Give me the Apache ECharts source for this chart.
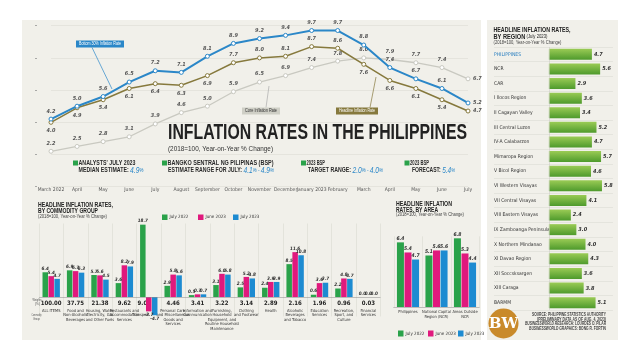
<!DOCTYPE html>
<html><head><meta charset="utf-8">
<script src="https://cdn.jsdelivr.net/npm/echarts@6/dist/echarts.min.js"></script>
<style>html,body{margin:0;padding:0;background:#fff}#c{width:640px;height:360px}</style>
</head><body><div id="c"></div>
<script>
// ---------- DATA ----------
const months = ['March 2022','April','May','June','July','August','September','October','November','December','January 2023','February','March','April','May','June','July'];
const bottom30 = [4.2,5.0,5.6,6.5,7.2,7.1,8.1,8.9,9.2,9.4,9.7,9.7,8.8,7.4,6.7,6.1,5.2];
const headline = [4.0,4.9,5.4,6.1,6.4,6.3,6.9,7.7,8.0,8.1,8.7,8.6,7.6,6.6,6.1,5.4,4.7];
const core = [2.2,2.5,2.8,3.1,3.9,4.6,5.0,5.9,6.5,6.9,7.4,7.8,8.0,7.9,7.7,7.4,6.7];

const commodityNames = ['ALL ITEMS','Food and\nNon-Alcoholic\nBeverages','Housing, Water,\nElectricity, Gas\nand Other Fuels','Restaurants and\nAccommodation\nServices','Transport','Personal Care,\nand Miscellaneous\nGoods and\nServices','Information and\nCommunication','Furnishing,\nHousehold\nEquipment, and\nRoutine Household\nMaintenance','Clothing\nand Footwear','Health','Alcoholic\nBeverages\nand Tobacco','Education\nServices','Recreation,\nSport, and\nCulture','Financial\nServices'];
const commodityWeights = ['100.00','37.75','21.38','9.62','9.05','4.46','3.41','3.22','3.14','2.89','2.16','1.96','0.96','0.03'];
const comJul2022 = [6.4,6.9,5.7,3.6,18.7,2.9,0.5,3.1,2.5,2.4,8.5,0.6,2.2,0.0];
const comJun2023 = [5.4,6.7,5.6,8.2,-3.7,5.8,0.7,6.0,5.2,3.9,11.6,3.6,4.8,0.0];
const comJul2023 = [4.7,6.3,4.5,7.9,-4.7,5.6,0.7,5.8,4.8,3.9,10.8,3.7,4.7,0.0];
const seriesNames = ['July 2022','June 2023','July 2023'];

const areaNames = ['Philippines','National Capital\nRegion (NCR)','Areas Outside\nNCR'];
const areaJul2022 = [6.4,5.1,6.8];
const areaJun2023 = [5.4,5.6,5.3];
const areaJul2023 = [4.7,5.6,4.4];

const regionNames = ['PHILIPPINES','NCR','CAR','I Ilocos Region','II Cagayan Valley','III Central Luzon','IV-A Calabarzon','Mimaropa Region','V Bicol Region','VI Western Visayas','VII Central Visayas','VIII Eastern Visayas','IX Zamboanga Peninsula','X Northern Mindanao','XI Davao Region','XII Soccsksargen','XIII Caraga','BARMM'];
const regionValues = [4.7,5.6,2.9,3.6,3.4,5.2,4.7,5.7,4.6,5.8,4.1,2.4,3.0,4.0,4.3,3.6,3.8,5.1];

// ---------- STYLE HELPERS ----------
const NARROW = "'Liberation Sans Narrow','DejaVu Sans Condensed','Roboto Condensed',Roboto,sans-serif";
const SANS = "'Liberation Sans',Arial,sans-serif";
const PANEL = '#f1f0ea';
const BLUE = '#2b87c8', OLIVE = '#86793d', GRAY = '#c9c9c1';
const barColors = ['#2aa24a','#e0197d','#1d8bd1'];
const ctx = document.createElement('canvas').getContext('2d');
function mw(t, size, weight, style) {
  ctx.font = (style||'normal') + ' ' + (weight||'normal') + ' ' + size + 'px ' + SANS;
  return ctx.measureText(t).width;
}
function fitText(parts, x, y, width, align) {
  let total = 0, text = ''; const rich = {};
  parts.forEach((p, i) => {
    total += mw(p.t, p.size, p.weight, p.style);
    rich['s' + i] = {fontSize: p.size, fontWeight: p.weight || 'normal', fontStyle: p.style || 'normal',
      fontFamily: SANS, fill: p.color || '#2a2a2a', color: p.color || '#2a2a2a'};
    text += '{s' + i + '|' + p.t + '}';
  });
  return {type: 'text', x: x, y: y, scaleX: width / total, z: 100,
    style: {text: text, rich: rich, align: align || 'left', verticalAlign: 'middle',
      textAlign: align || 'left', textVerticalAlign: 'middle'}};
}
function P(t, size, weight, color, style) { return {t, size, weight, color, style}; }

const graphics = [
  {type:'rect', z:-10, shape:{x:22,y:20,width:459,height:320}, style:{fill:PANEL}},
  {type:'rect', z:-10, shape:{x:487,y:20,width:131,height:320}, style:{fill:PANEL}},
  // title
  fitText([P('INFLATION RATES IN THE PHILIPPINES', 22, 'bold', '#222')], 168, 133, 299),
  fitText([P('(2018=100, Year-on-Year % Change)', 8, 'normal', '#333')], 168, 149, 105),
  // annotations
  {type:'rect', z:100, shape:{x:73,y:160.5,width:5,height:5}, style:{fill:'#2aa24a'}},
  fitText([P("ANALYSTS' JULY 2023", 7, 'bold')], 78.5, 163, 57),
  fitText([P('MEDIAN ESTIMATE: ', 7, 'bold'), P('4.9', 9, 'normal', BLUE, 'italic'), P('%', 6, 'normal', BLUE, 'italic')], 78.5, 170.5, 65),
  {type:'rect', z:100, shape:{x:162,y:160.5,width:5,height:5}, style:{fill:'#2aa24a'}},
  fitText([P('BANGKO SENTRAL NG PILIPINAS (BSP)', 7, 'bold')], 167.5, 163, 106),
  fitText([P('ESTIMATE RANGE FOR JULY: ', 7, 'bold'), P('4.1', 9, 'normal', BLUE, 'italic'), P('% - ', 6, 'normal', BLUE, 'italic'), P('4.9', 9, 'normal', BLUE, 'italic'), P('%', 6, 'normal', BLUE, 'italic')], 168, 170.5, 106),
  {type:'rect', z:100, shape:{x:301,y:160.5,width:5,height:5}, style:{fill:'#2aa24a'}},
  fitText([P('2023 BSP', 7, 'bold')], 306.5, 163, 18.5),
  fitText([P('TARGET RANGE: ', 7, 'bold'), P('2.0', 9, 'normal', BLUE, 'italic'), P('% - ', 6, 'normal', BLUE, 'italic'), P('4.0', 9, 'normal', BLUE, 'italic'), P('%', 6, 'normal', BLUE, 'italic')], 308, 170.5, 75),
  {type:'rect', z:100, shape:{x:404.5,y:160.5,width:5,height:5}, style:{fill:'#2aa24a'}},
  fitText([P('2023 BSP', 7, 'bold')], 410, 163, 19),
  fitText([P('FORECAST: ', 7, 'bold'), P('5.4', 9, 'normal', BLUE, 'italic'), P('%', 6, 'normal', BLUE, 'italic')], 412, 170.5, 43),
  // callouts
  {type:'line', z:50, shape:{x1:92,y1:47.5,x2:112,y2:89}, style:{stroke:BLUE, lineWidth:0.7}},
  {type:'rect', z:60, shape:{x:76,y:40.5,width:48,height:7}, style:{fill:BLUE}},
  fitText([P('Bottom 30% Inflation Rate', 5, 'normal', '#fff')], 100, 44, 42, 'center'),
  {type:'line', z:50, shape:{x1:266,y1:107.5,x2:269,y2:86}, style:{stroke:'#aaa', lineWidth:0.7}},
  {type:'rect', z:60, shape:{x:242,y:107.5,width:38,height:7}, style:{fill:'#cfcfc6'}},
  fitText([P('Core Inflation Rate', 5, 'normal', '#333')], 261, 111, 32, 'center'),
  {type:'line', z:50, shape:{x1:370,y1:107.5,x2:376,y2:77}, style:{stroke:OLIVE, lineWidth:0.7}},
  {type:'rect', z:60, shape:{x:336,y:107.5,width:42,height:7}, style:{fill:OLIVE}},
  fitText([P('Headline Inflation Rate', 5, 'normal', '#fff')], 357, 111, 36, 'center'),
  // commodity titles
  fitText([P('HEADLINE INFLATION RATES,', 8, 'bold', '#222')], 38, 204.5, 75),
  fitText([P('BY COMMODITY GROUP', 8, 'bold', '#222')], 38, 210.8, 60),
  fitText([P('(2018=100, Year-on-Year % Change)', 5, 'normal', '#444')], 38, 216.3, 69),
  fitText([P('Weights', 4, 'normal', '#555')], 41.5, 299.5, 9, 'right'),
  fitText([P('(%)', 4, 'normal', '#555')], 40, 303.5, 5, 'right'),
  fitText([P('Commodity', 4, 'normal', '#555')], 41.5, 315, 10, 'right'),
  fitText([P('Group', 4, 'normal', '#555')], 40, 319, 7, 'right'),
  // area titles
  fitText([P('HEADLINE INFLATION', 8, 'bold', '#222')], 396, 203.3, 56),
  fitText([P('RATES, BY AREA', 8, 'bold', '#222')], 396, 209.3, 42),
  fitText([P('(2018=100, Year-on-Year % Change)', 5, 'normal', '#444')], 396, 215, 68),
  // region titles
  fitText([P('HEADLINE INFLATION RATES,', 8, 'bold', '#222')], 493.5, 30, 77),
  fitText([P('BY REGION', 8, 'bold', '#222'), P(' (July 2023)', 6, 'normal', '#222')], 493.5, 36.7, 54),
  fitText([P('(2018=100, Year-on-Year % Change)', 5, 'normal', '#444')], 493.5, 42.7, 68),
  // source
  fitText([P('SOURCE: PHILIPPINE STATISTICS AUTHORITY', 5, 'bold', '#444')], 606, 314.3, 74, 'right'),
  fitText([P('(PRELIMINARY DATA AS OF AUG. 4, 2023)', 5, 'bold', '#444')], 606, 319.2, 69, 'right'),
  fitText([P('BUSINESSWORLD RESEARCH: ', 5, 'bold', '#444', 'italic'), P('LOURDES O. PILAR', 5, 'bold', '#444')], 606, 324.1, 81, 'right'),
  fitText([P('BUSINESSWORLD GRAPHICS: ', 5, 'bold', '#444', 'italic'), P('BONG R. FORTIN', 5, 'bold', '#444')], 606, 329, 77, 'right'),
  // logo
  {type:'circle', z:100, shape:{cx:503.5,cy:323.5,r:15}, style:{fill:'#c98a2b'}},
  {type:'text', z:101, x:503.5, y:324, style:{text:'BW', fill:'#fff', font:"bold 15px 'DejaVu Serif',serif", align:'center', verticalAlign:'middle', textAlign:'center', textVerticalAlign:'middle'}}
];

// ---------- SERIES ----------
function lineSeries(name, data, color, width, posFn, z) {
  return {type:'line', name, xAxisIndex:0, yAxisIndex:0, z,
    data: data.map((v, i) => ({value: v, label: {position: posFn(i)}})),
    symbol:'circle', symbolSize:4, showSymbol:true,
    lineStyle:{color, width}, itemStyle:{color:'#fff', borderColor:color, borderWidth:1},
    label:{show:true, fontSize:5.5, fontStyle:'italic', fontWeight:'bold', color:'#555', distance:2.5,
      fontFamily:NARROW, formatter: p => p.value.toFixed(1)}};
}
const last = months.length - 1;
function barSeries(name, arr, color, xi, yi, bw, fs, extra) {
  return Object.assign({type:'bar', name, xAxisIndex:xi, yAxisIndex:yi, barWidth:bw, barGap:'8%',
    data: arr.map(v => ({value: v, label: {position: v < 0 ? 'bottom' : 'top'}})),
    itemStyle:{color},
    label:{show:true, fontSize:fs, fontStyle:'italic', fontWeight:'bold', color:'#333', distance:1,
      fontFamily:NARROW, formatter: p => p.value.toFixed(1)}}, extra || {});
}
const zeroLine = {markLine:{silent:true, symbol:'none', label:{show:false}, lineStyle:{color:'#888', width:0.5, type:'solid'}, data:[{yAxis:0}]}};

const option = {
  animation:false,
  textStyle:{fontFamily:NARROW},
  grid:[
    {left:51, top:25.7, width:417, height:161},
    {left:39, top:223.5, width:341.5, height:92.9},
    {left:393.75, top:236.3, width:85.5, height:70.7},
    {left:494, top:47, width:118.95, height:263}
  ],
  xAxis:[
    {gridIndex:0, type:'category', data:months, boundaryGap:false, axisLine:{show:false}, axisTick:{show:false},
      axisLabel:{interval:0, fontSize:5, color:'#555', margin:1}},
    {gridIndex:1, type:'category', data:commodityNames, axisLine:{show:false, onZero:false}, axisTick:{show:false},
      splitLine:{show:true, lineStyle:{color:'#e0dfd7', width:0.8}},
      axisLabel:{interval:0, margin:-17.2, lineHeight:4.6,
        formatter:(v, i) => i === 4 ? '{tw|' + commodityWeights[i] + '}\n{t|' + v + '}' : '{w|' + commodityWeights[i] + '}\n{n|' + v + '}',
        rich:{w:{fontSize:6, fontWeight:'bold', color:'#222', lineHeight:9, fontFamily:NARROW},
              tw:{fontSize:6, fontWeight:'bold', color:'#222', lineHeight:9, fontFamily:NARROW, padding:[0,9,0,0]},
              n:{fontSize:4, color:'#333', lineHeight:4.6, fontFamily:NARROW},
              t:{fontSize:4, color:'#333', lineHeight:4.6, fontFamily:NARROW, padding:[8,16,0,0]}}}},
    {gridIndex:2, type:'category', data:areaNames, axisLine:{lineStyle:{color:'#888', width:0.5}}, axisTick:{show:false},
      splitLine:{show:true, lineStyle:{color:'#e0dfd7', width:0.8}},
      axisLabel:{interval:0, margin:3, fontSize:4, lineHeight:4.6, color:'#333'}},
    {gridIndex:3, type:'value', min:-6, max:7, show:false}
  ],
  yAxis:[
    {gridIndex:0, type:'value', min:0, max:10, interval:2, offset:14, axisLine:{show:false},
      axisTick:{show:true, length:2, lineStyle:{color:'#777', width:0.6}}, axisLabel:{show:false},
      splitLine:{lineStyle:{color:'#dddcd4', width:0.6}}},
    {gridIndex:1, type:'value', min:-5, max:19, show:false},
    {gridIndex:2, type:'value', min:0, max:7, show:false},
    {gridIndex:3, type:'category', data:regionNames, inverse:true, axisLine:{show:false}, axisTick:{show:false},
      splitLine:{show:true, lineStyle:{color:'#dcdbd3', width:0.6}},
      axisLabel:{inside:true, margin:0, fontSize:5, color:'#333', align:'left',
        formatter:(v, i) => i === 0 ? '{p|' + v + '}' : v,
        rich:{p:{fontSize:5, color:'#2a7fc0', fontFamily:NARROW}}}}
  ],
  legend: seriesNames.map((n, i) => ({data:[n], left:[157,193,228][i], top:209.5, itemWidth:5.5, itemHeight:5.5, icon:'rect', itemGap:2,
      textStyle:{fontSize:4.5, color:'#333', padding:[0,0,0,-3]}, selectedMode:false}))
    .concat(seriesNames.map((n, i) => ({data:[n], left:[393,423,453][i], top:325.5, itemWidth:5.5, itemHeight:6, icon:'rect', itemGap:2,
      textStyle:{fontSize:4.5, color:'#333', padding:[0,0,0,-3]}, selectedMode:false}))),
  series:[
    lineSeries('Core Inflation Rate', core, GRAY, 1.3, i => i === last ? 'right' : 'top', 3),
    lineSeries('Headline Inflation Rate', headline, OLIVE, 1.5, i => i === last ? 'right' : (i >= 7 && i <= 11 ? 'top' : 'bottom'), 4),
    lineSeries('Bottom 30% Inflation Rate', bottom30, BLUE, 2, i => i === last ? 'right' : 'top', 5),
    barSeries(seriesNames[0], comJul2022, barColors[0], 1, 1, 5.5, 4.6, zeroLine),
    barSeries(seriesNames[1], comJun2023, barColors[1], 1, 1, 5.5, 4.6),
    barSeries(seriesNames[2], comJul2023, barColors[2], 1, 1, 5.5, 4.6),
    barSeries(seriesNames[0], areaJul2022, barColors[0], 2, 2, 7, 5),
    barSeries(seriesNames[1], areaJun2023, barColors[1], 2, 2, 7, 5),
    barSeries(seriesNames[2], areaJul2023, barColors[2], 2, 2, 7, 5),
    {type:'bar', name:'Region', xAxisIndex:3, yAxisIndex:3, barWidth:11, data:regionValues,
      itemStyle:{color:new echarts.graphic.LinearGradient(0,0,0,1,[{offset:0,color:'#9acb55'},{offset:1,color:'#4e9a2c'}])},
      label:{show:true, position:'right', distance:2, fontSize:5.5, fontStyle:'italic', fontWeight:'bold', color:'#333',
        fontFamily:NARROW, formatter:p => p.value.toFixed(1)},
      markLine:{silent:true, symbol:'none', label:{show:false}, lineStyle:{color:'#cfcec6', width:0.6, type:'solid'}, data:[{xAxis:0}]}}
  ],
  graphic: graphics
};
const chart = echarts.init(document.getElementById('c'));
chart.setOption(option);
</script></body></html>
